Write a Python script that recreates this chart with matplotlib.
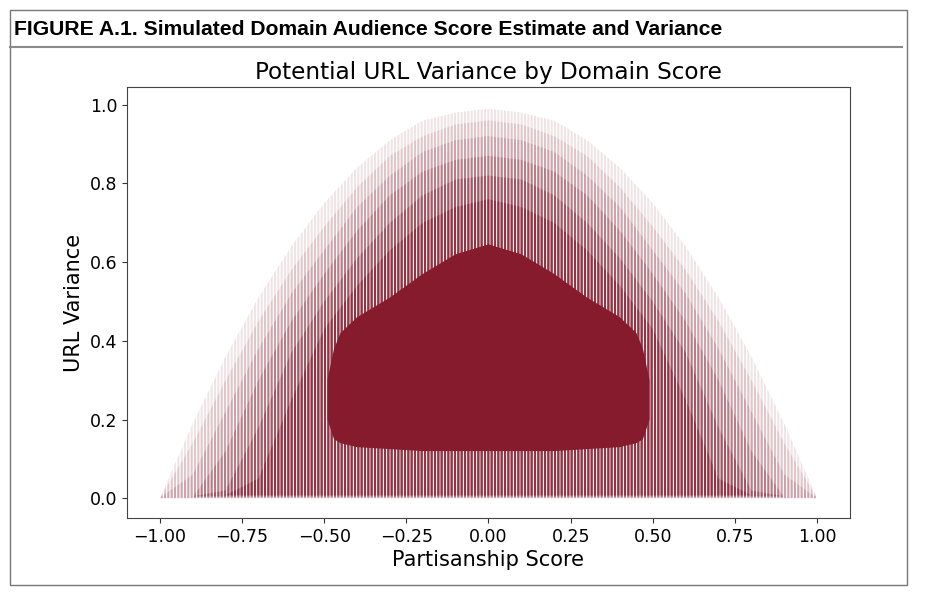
import numpy as np
import matplotlib
matplotlib.use('Agg')
from matplotlib import pyplot as plt
from matplotlib.patches import Rectangle
from matplotlib.lines import Line2D

# domain score knots (x) and the height of each density band
score_knots = [-1.0, -0.9, -0.8, -0.7, -0.6, -0.5, -0.4, -0.3, -0.2, -0.1, 0.0,
               0.1, 0.2, 0.3, 0.4, 0.5, 0.6, 0.7, 0.8, 0.9, 1.0]
# outermost (faintest) points reach the max possible variance
band1_top = [0.0, 0.19, 0.36, 0.51, 0.64, 0.75, 0.84, 0.91, 0.96, 0.98, 0.99,
             0.98, 0.96, 0.91, 0.84, 0.75, 0.64, 0.51, 0.36, 0.19, 0.0]
band2_top = [0.0, 0.14, 0.30, 0.45, 0.58, 0.69, 0.79, 0.87, 0.92, 0.95, 0.96,
             0.95, 0.92, 0.87, 0.79, 0.69, 0.58, 0.45, 0.30, 0.14, 0.0]
band3_top = [0.0, 0.06, 0.22, 0.38, 0.52, 0.63, 0.74, 0.82, 0.88, 0.91, 0.92,
             0.91, 0.88, 0.82, 0.74, 0.63, 0.52, 0.38, 0.22, 0.06, 0.0]
band4_top = [0.0, 0.0, 0.12, 0.30, 0.45, 0.57, 0.68, 0.77, 0.83, 0.86, 0.87,
             0.86, 0.83, 0.77, 0.68, 0.57, 0.45, 0.30, 0.12, 0.0, 0.0]
band5_top = [0.0, 0.0, 0.02, 0.18, 0.37, 0.50, 0.61, 0.70, 0.77, 0.81, 0.82,
             0.81, 0.77, 0.70, 0.61, 0.50, 0.37, 0.18, 0.02, 0.0, 0.0]
band6_top = [0.0, 0.0, 0.0, 0.05, 0.25, 0.43, 0.54, 0.63, 0.70, 0.74, 0.76,
             0.74, 0.70, 0.63, 0.54, 0.43, 0.25, 0.05, 0.0, 0.0, 0.0]
band_bottoms = [0.0, 0.0, 0.001, 0.003, 0.005, 0.008]
band_alpha = [0.12, 0.15, 0.20, 0.28, 0.40, 0.60]

# solid core where the simulated points pile up
core_x = [-0.49, -0.47, -0.45, -0.4, -0.3, -0.2, -0.1, 0.0, 0.1, 0.2, 0.3, 0.4, 0.45, 0.47, 0.49]
core_top = [0.30, 0.38, 0.42, 0.46, 0.51, 0.57, 0.62, 0.645, 0.62, 0.57, 0.51, 0.46, 0.42, 0.38, 0.30]
core_bottom = [0.20, 0.15, 0.14, 0.13, 0.125, 0.12, 0.12, 0.12, 0.12, 0.12, 0.125, 0.13, 0.14, 0.15, 0.20]

red = (0.525, 0.106, 0.176)

plt.rcParams['hatch.linewidth'] = 1.5
plt.rcParams['font.family'] = 'DejaVu Sans'

fig = plt.figure(figsize=(9.25, 6.0), dpi=100)

# outer frame + figure caption
fig.patches.append(Rectangle((0.0108, 0.025), 0.9697, 0.9583, transform=fig.transFigure,
                             fill=False, edgecolor='#777777', linewidth=1.0))
fig.lines.append(Line2D([0.0108, 0.975], [0.9217, 0.9217], transform=fig.transFigure,
                        color='#8a8a8a', linewidth=1.5))
fig.text(0.0152, 0.951, 'FIGURE A.1. Simulated Domain Audience Score Estimate and Variance',
         fontsize=15.2, fontweight='bold', family='Liberation Sans', va='center', ha='left')

ax = fig.add_axes([0.1373, 0.1367, 0.7816, 0.7183])

tops = [band1_top, band2_top, band3_top, band4_top, band5_top, band6_top]
for top, bot, a in zip(tops, band_bottoms, band_alpha):
    top = np.maximum(top, bot)
    ax.fill_between(score_knots, bot, top, facecolor='none',
                    edgecolor=red + (a,), linewidth=0, hatch='|' * 5)
ax.fill_between(core_x, core_bottom, core_top, facecolor=red, edgecolor='none', linewidth=0)

ax.set_xlim(-1.1, 1.1)
ax.set_ylim(-0.05, 1.045)
ax.set_xticks([-1.0, -0.75, -0.5, -0.25, 0.0, 0.25, 0.5, 0.75, 1.0])
ax.set_yticks([0.0, 0.2, 0.4, 0.6, 0.8, 1.0])
ax.tick_params(labelsize=12.5, color='#333333', length=3.5)
for s in ax.spines.values():
    s.set_color('#444444')

ax.set_title('Potential URL Variance by Domain Score', fontsize=16.7)
ax.set_xlabel('Partisanship Score', fontsize=15, labelpad=3)
ax.set_ylabel('URL Variance', fontsize=15)

fig.savefig('out.png', dpi=100)
